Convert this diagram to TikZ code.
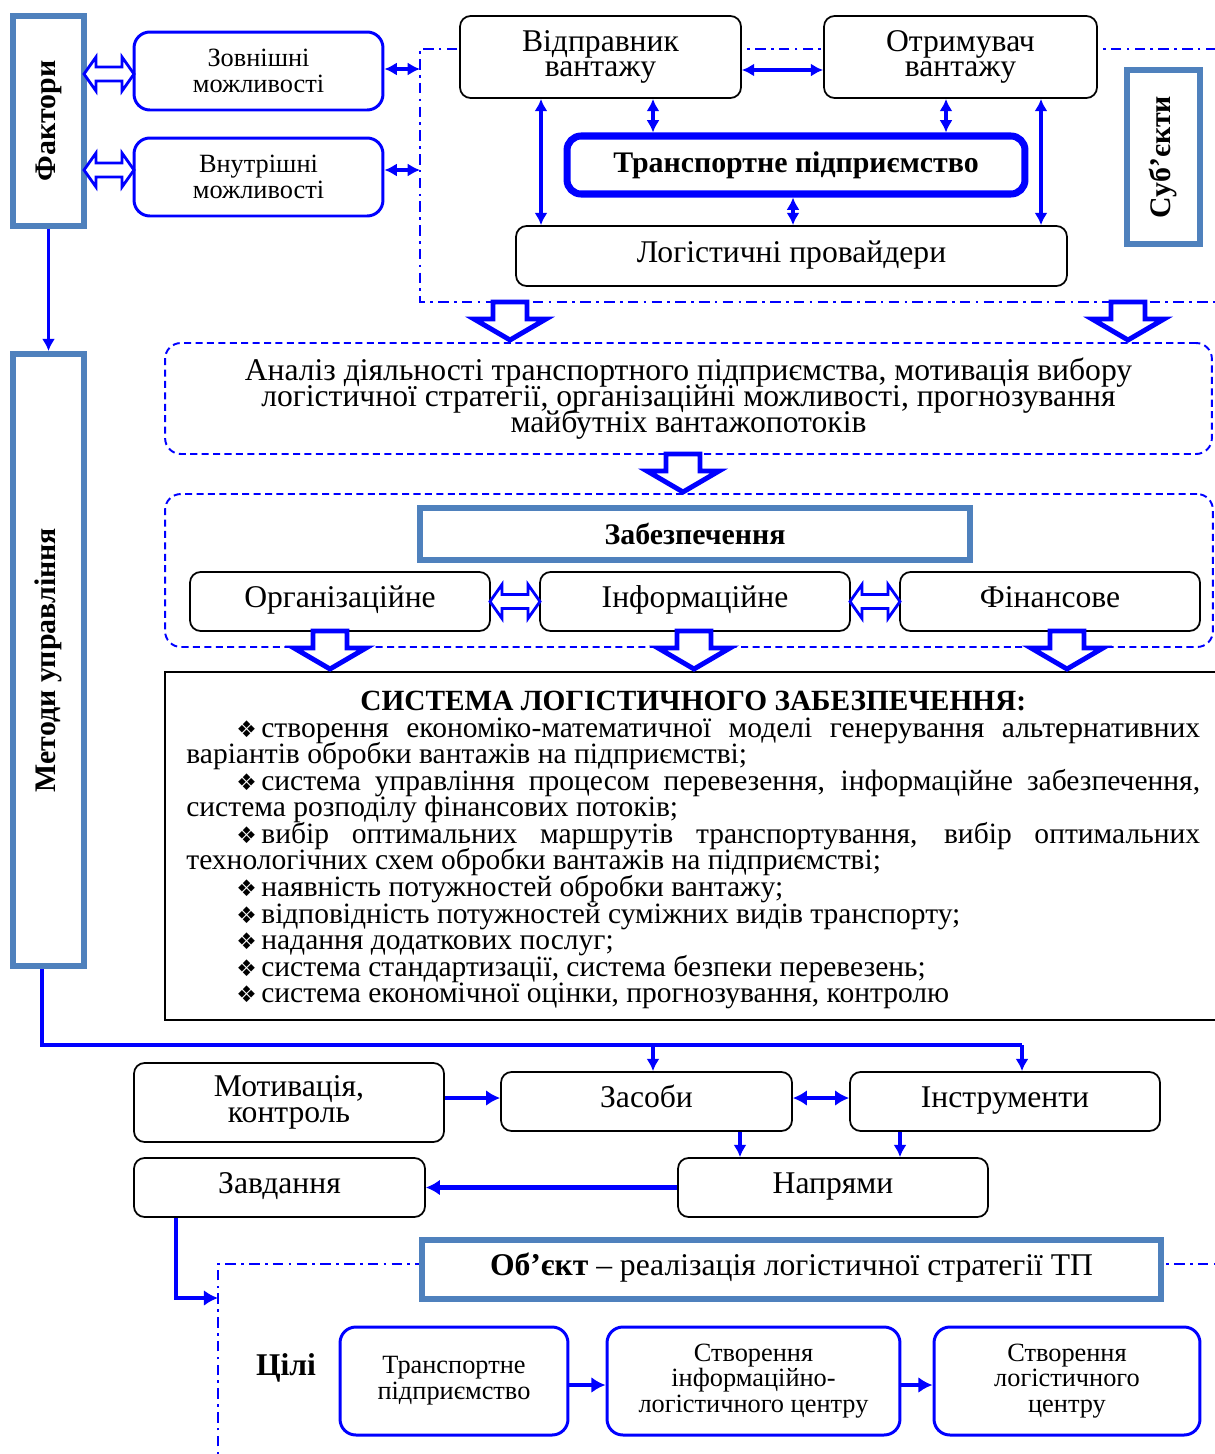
\documentclass[tikz,border=0pt]{standalone}
\usepackage{fontspec}
\setmainfont{Liberation Serif}
\newfontfamily\dingfont{DejaVu Sans}
\usepackage{graphicx}
\usepackage{tikz}
\usetikzlibrary{arrows, arrows.meta, shapes, positioning}

\definecolor{linkblue}{RGB}{0,0,255}
\definecolor{frameblue}{RGB}{79,129,189}

\newcommand{\fs}[2]{\fontsize{#1}{#2}\selectfont\lineskiplimit=-50pt\relax}
\newcommand{\dia}{\makebox[0.5cm][l]{\dingfont\fs{13}{14}❖}}

\tikzset{
	box/.style={draw=black, fill=white, line width=1pt, rounded corners=6pt, align=center, inner sep=0pt, font=\fs{18}{14.7}},
	oneline/.style={text height=12pt, text depth=5pt},
	bluebox/.style={draw=linkblue, fill=white, line width=1.7pt, rounded corners=9pt, align=center, inner sep=0pt, font=\fs{15}{14.7}},
	framebox/.style={draw=frameblue, fill=white, line width=3.4pt, align=center, inner sep=0pt, font=\bfseries\fs{17}{17}},
	region/.style={draw=linkblue, line width=1.1pt, dash pattern=on 4pt off 2.5pt, rounded corners=9pt, align=center, inner sep=0pt},
	dashdot/.style={draw=linkblue, line width=1.1pt, dash pattern=on 6pt off 3pt on 1.5pt off 3pt},
	link/.style={draw=linkblue, line width=1.8pt, >={Latex[length=7pt,width=7.5pt]}},
	heavy/.style={link, line width=2.4pt, >={Latex[length=8pt,width=9pt]}},
	downarrow/.pic={\draw[linkblue, fill=white, line width=2.8pt] (-17,0) -- (17,0) -- (17,17) -- (36,17) -- (0,38) -- (-36,17) -- (-17,17) -- cycle;},
	lrarrow/.pic={\draw[linkblue, fill=white, line width=1.6pt] (0,0) -- (12,-17) -- (12,-7) -- (38,-7) -- (38,-17) -- (50,0) -- (38,17) -- (38,7) -- (12,7) -- (12,17) -- cycle;}
}

\begin{document}
\begin{tikzpicture}[x=0.02cm, y=-0.02cm]
	\useasboundingbox (0,0) rectangle (1214,1454);

	\draw[dashdot] (1240,49) -- (420,49) coordinate (s1) -- (420,302) coordinate (s2) -- (1240,302);
	\draw[dashdot] (218,1470) -- (218,1264) coordinate (o1) -- (1240,1264);
	\coordinate (o2) at (218,1298);

	\node[framebox, minimum width=1.42cm, minimum height=4.2cm] (fak) at (48.5,121) {\rotatebox{90}{Фактори}};
	\node[framebox, minimum width=1.42cm, minimum height=12.24cm] (metod) at (48.5,660) {\rotatebox{90}{Методи управління}};
	\node[framebox, minimum width=1.46cm, minimum height=3.48cm] (subj) at (1163.5,157) {\rotatebox{90}{Суб’єкти}};

	\node[bluebox, minimum width=4.98cm, minimum height=1.56cm] (zovn) at (258.5,71) {Зовнішні\\можливості};
	\node[bluebox, minimum width=4.98cm, minimum height=1.56cm] (vnut) at (258.5,177) {Внутрішні\\можливості};

	\node[box, minimum width=5.62cm, minimum height=1.64cm] (vidp) at (600.5,57) {Відправник\\вантажу};
	\node[box, minimum width=5.46cm, minimum height=1.64cm] (otr) at (960.5,57) {Отримувач\\вантажу};
	\node[box, draw=linkblue, line width=4pt, rounded corners=8pt, minimum width=9.16cm, minimum height=1.16cm, font=\bfseries\fs{17}{17}] (trans) at (796,165) {Транспортне підприємство};
	\node[box, oneline, minimum width=11.02cm, minimum height=1.2cm] (logp) at (791.5,256) {Логістичні провайдери};

	\draw[link, <->] (zovn.east |- 0,69) -- (s1 |- 0,69);
	\draw[link, <->] (vnut.east |- 0,170) -- (s1 |- 0,170);
	\draw[link, <->] (vidp.east |- 0,70) -- (otr.west |- 0,70);
	\draw[link, <->] (vidp.south -| 541,0) -- (logp.north -| 541,0);
	\draw[link, <->] (vidp.south -| 653,0) -- (trans.north -| 653,0);
	\draw[link, <->] (otr.south -| 946,0) -- (trans.north -| 946,0);
	\draw[link, <->] (otr.south -| 1041,0) -- (logp.north -| 1041,0);
	\draw[link, <->] (trans.south -| 793,0) -- (logp.north -| 793,0);

	\pic at (84,74) {lrarrow};
	\pic at (84,170) {lrarrow};

	\node[region, minimum width=20.94cm, minimum height=2.22cm, font=\fs{18}{14.7}] (analiz) at (688.5,398.5) {Аналіз діяльності транспортного підприємства, мотивація вибору\\логістичної стратегії, організаційні можливості, прогнозування\\майбутніх вантажопотоків};
	\node[region, minimum width=20.96cm, minimum height=3.06cm] (zreg) at (689,570.5) {};
	\node[framebox, minimum width=11cm, minimum height=1.04cm] (zab) at (695,534) {Забезпечення};
	\node[box, oneline, minimum width=6cm, minimum height=1.18cm] (org) at (340,601.5) {Організаційне};
	\node[box, oneline, minimum width=6.2cm, minimum height=1.18cm] (inf) at (695,601.5) {Інформаційне};
	\node[box, oneline, minimum width=6cm, minimum height=1.18cm] (fin) at (1050,601.5) {Фінансове};

	\node[draw=black, line width=1.1pt, minimum width=21.3cm, minimum height=6.96cm, inner sep=0pt] (sys) at (697.5,846) {};
	\node[anchor=north west, text width=20.28cm, inner sep=0pt, align=justify, font=\fs{16.8}{15.1}] (systext) at (186,691) {%
		\parindent=0pt \hyphenpenalty=10000 \exhyphenpenalty=10000
		{\centering\bfseries\fs{16.7}{15.1}СИСТЕМА ЛОГІСТИЧНОГО ЗАБЕЗПЕЧЕННЯ:\par}
		\hspace*{1cm}\dia створення економіко-математичної моделі генерування альтернативних\linebreak варіантів обробки вантажів на підприємстві;\par
		\hspace*{1cm}\dia система управління процесом перевезення, інформаційне забезпечення,\linebreak система розподілу фінансових потоків;\par
		\hspace*{1cm}\dia вибір оптимальних маршрутів транспортування, вибір оптимальних\linebreak технологічних схем обробки вантажів на підприємстві;\par
		\hspace*{1cm}\dia наявність потужностей обробки вантажу;\par
		\hspace*{1cm}\dia відповідність потужностей суміжних видів транспорту;\par
		\hspace*{1cm}\dia надання додаткових послуг;\par
		\hspace*{1cm}\dia система стандартизації, система безпеки перевезень;\par
		\hspace*{1cm}\dia система економічної оцінки, прогнозування, контролю\par};

	\pic at (510,302) {downarrow};
	\pic at (1128,302) {downarrow};
	\pic at (683,454) {downarrow};
	\pic at (330,631) {downarrow};
	\pic at (694,631) {downarrow};
	\pic at (1067,631) {downarrow};
	\pic at (490,601.5) {lrarrow};
	\pic at (850,601.5) {lrarrow};

	\node[box, minimum width=6.2cm, minimum height=1.58cm] (motiv) at (289,1102.5) {Мотивація,\\контроль};
	\node[box, oneline, minimum width=5.82cm, minimum height=1.18cm] (zasob) at (646.5,1101.5) {Засоби};
	\node[box, oneline, minimum width=6.2cm, minimum height=1.18cm] (instr) at (1005,1101.5) {Інструменти};
	\node[box, oneline, minimum width=5.82cm, minimum height=1.18cm] (zavd) at (279.5,1187.5) {Завдання};
	\node[box, oneline, minimum width=6.2cm, minimum height=1.18cm] (napr) at (833,1187.5) {Напрями};

	\coordinate (bz) at (653,1045);
	\coordinate (bi) at (1022,1045);
	\draw[link, ->] (fak.south) -- (metod.north);
	\draw[link] (metod.south -| 42,0) |- (bi);
	\draw[link, ->] (bi) -- (bi |- instr.north);
	\draw[link, ->] (bz) -- (bz |- zasob.north);
	\draw[heavy, ->] (motiv.east |- 0,1098) -- (zasob.west |- 0,1098);
	\draw[heavy, <->] (zasob.east |- 0,1098) -- (instr.west |- 0,1098);
	\draw[link, ->] (zasob.south -| 740,0) -- (napr.north -| 740,0);
	\draw[link, ->] (instr.south -| 900,0) -- (napr.north -| 900,0);
	\draw[heavy, ->] (napr.west) -- (zavd.east);
	\draw[heavy, ->] (zavd.south -| 176,0) |- (o2);

	\node[framebox, oneline, minimum width=14.78cm, minimum height=1.18cm, font=\fs{18}{18}] (obj) at (791.5,1269.5) {\textbf{Об’єкт} – реалізація логістичної стратегії ТП};
	\node[font=\bfseries\fs{18}{18}] (cili) at (286,1368) {Цілі};
	\node[bluebox, minimum width=4.56cm, minimum height=2.16cm] (g1) at (454,1381) {Транспортне\\підприємство};
	\node[bluebox, minimum width=5.86cm, minimum height=2.16cm] (g2) at (753.5,1381) {Створення\\інформаційно-\\логістичного центру};
	\node[bluebox, minimum width=5.32cm, minimum height=2.16cm] (g3) at (1067,1381) {Створення\\логістичного\\центру};
	\draw[heavy, ->] (g1.east |- 0,1385) -- (g2.west |- 0,1385);
	\draw[heavy, ->] (g2.east |- 0,1385) -- (g3.west |- 0,1385);
\end{tikzpicture}
\end{document}
